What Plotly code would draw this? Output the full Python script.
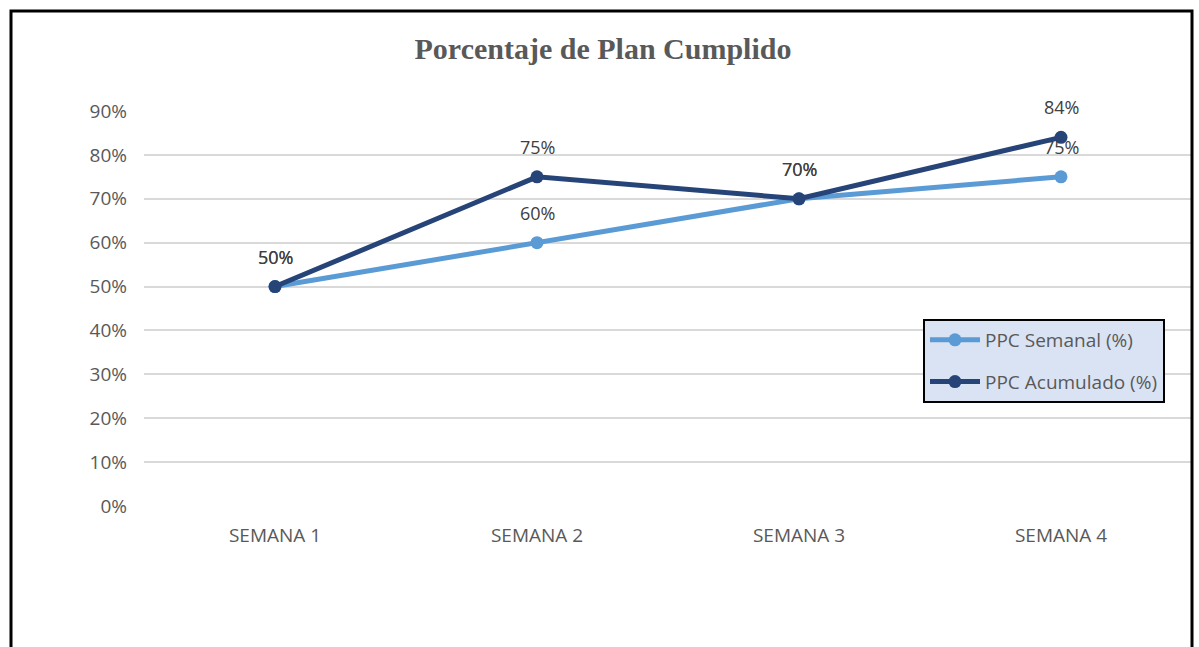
import plotly.graph_objects as go

# Weekly plan completion data
semanas = ["SEMANA 1", "SEMANA 2", "SEMANA 3", "SEMANA 4"]
ppc_semanal = [0.50, 0.60, 0.70, 0.75]
ppc_acumulado = [0.50, 0.75, 0.70, 0.84]

W, H = 1199, 647
left, right, top, bottom = 144, 7, 111, 141
plot_w = W - left - right
plot_h = H - top - bottom

def px_x(x):
    return (x - left) / plot_w

def px_y(y):
    return (H - bottom - y) / plot_h

sans = "Open Sans, Liberation Sans, sans-serif"
label_font = dict(family=sans, size=18, color="#404040")

series = [
    ("PPC Semanal (%)", ppc_semanal, "#5b9bd5"),
    ("PPC Acumulado (%)", ppc_acumulado, "#264478"),
]

fig = go.Figure()
annotations = []
for i, (name, values, color) in enumerate(series):
    fig.add_trace(go.Scatter(
        x=semanas, y=values, name=name, legendgroup=f"g{i}",
        mode="lines+markers",
        line=dict(color=color, width=5),
        marker=dict(color=color, size=13),
    ))
    # value labels above each point
    for cat, v in zip(semanas, values):
        annotations.append(dict(
            x=cat, y=v, xref="x", yref="y", text=f"{v:.0%}",
            showarrow=False, yshift=30, font=label_font,
        ))

fig.update_layout(
    width=W, height=H,
    margin=dict(l=left, r=right, t=top, b=bottom),
    paper_bgcolor="white", plot_bgcolor="white",
    title=dict(
        text="<b>Porcentaje de Plan Cumplido</b>",
        font=dict(family="Liberation Serif, Times New Roman, serif", size=30, color="#595959"),
        x=603 / W, xanchor="center", y=1 - 48 / H, yanchor="middle",
    ),
    font=dict(family=sans, color="#595959"),
    showlegend=True,
    legend=dict(
        x=px_x(923), y=px_y(319), xanchor="left", yanchor="top",
        bgcolor="#dae3f3", bordercolor="black", borderwidth=2,
        font=dict(size=19, color="#595959"),
        itemwidth=50, traceorder="grouped", tracegroupgap=14,
    ),
    xaxis=dict(
        range=[-0.5, 3.5], showgrid=False, showline=False, zeroline=False,
        tickfont=dict(size=19, color="#595959"), ticks="", ticklabelstandoff=16,
    ),
    yaxis=dict(
        range=[0, 0.9], dtick=0.1, tickformat=".0%",
        showgrid=True, gridcolor="#d9d9d9", gridwidth=1.5,
        zeroline=False, showline=False, ticks="",
        tickfont=dict(size=19, color="#595959"), ticklabelstandoff=16,
    ),
    annotations=annotations,
    shapes=[dict(
        type="rect", xref="paper", yref="paper",
        x0=px_x(11), x1=px_x(1192), y0=px_y(700), y1=px_y(11),
        line=dict(color="black", width=3), layer="above",
    )],
)

fig.write_html("out.html")
